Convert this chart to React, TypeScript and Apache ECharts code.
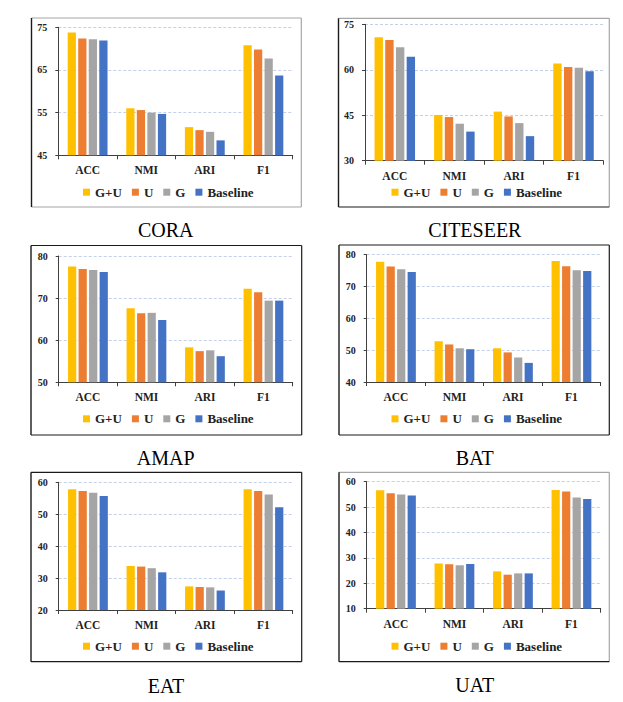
import { useEffect, useRef } from "react";
import * as echarts from "echarts";

const categories = ["ACC", "NMI", "ARI", "F1"];
const seriesNames = ["G+U", "U", "G", "Baseline"];
const seriesColors = ["#FFC000", "#ED7D31", "#A5A5A5", "#4472C4"];

const coraGU = [73.8, 56.0, 51.6, 70.8];
const coraU = [72.4, 55.6, 50.9, 69.8];
const coraG = [72.2, 55.0, 50.5, 67.7];
const coraBase = [71.9, 54.7, 48.5, 63.7];

const citeseerGU = [70.7, 45.1, 46.2, 62.1];
const citeseerU = [69.8, 44.4, 44.6, 60.9];
const citeseerG = [67.4, 42.2, 42.4, 60.7];
const citeseerBase = [64.3, 39.6, 38.1, 59.5];

const amapGU = [77.5, 67.6, 58.3, 72.2];
const amapU = [76.9, 66.4, 57.4, 71.4];
const amapG = [76.7, 66.5, 57.6, 69.4];
const amapBase = [76.2, 64.8, 56.2, 69.4];

const batGU = [77.8, 52.8, 50.6, 78.0];
const batU = [76.3, 51.8, 49.3, 76.4];
const batG = [75.4, 50.6, 47.7, 75.1];
const batBase = [74.6, 50.3, 46.0, 74.9];

const eatGU = [57.8, 33.8, 27.4, 57.8];
const eatU = [57.3, 33.6, 27.2, 57.3];
const eatG = [56.7, 33.1, 27.1, 56.2];
const eatBase = [55.7, 31.8, 26.1, 52.2];

const uatGU = [56.6, 27.8, 24.7, 56.7];
const uatU = [55.5, 27.5, 23.4, 56.1];
const uatG = [55.0, 27.1, 23.9, 53.8];
const uatBase = [54.6, 27.6, 23.9, 53.2];

const datasetNames = ["CORA", "CITESEER", "AMAP", "BAT", "EAT", "UAT"];
const datasetSeries = [
  [coraGU, coraU, coraG, coraBase],
  [citeseerGU, citeseerU, citeseerG, citeseerBase],
  [amapGU, amapU, amapG, amapBase],
  [batGU, batU, batG, batBase],
  [eatGU, eatU, eatG, eatBase],
  [uatGU, uatU, uatG, uatBase],
];
// [min, max, interval]
const axisRanges = [
  [45, 75, 10],
  [30, 75, 15],
  [50, 80, 10],
  [40, 80, 10],
  [20, 60, 10],
  [10, 60, 10],
];

// layout (page px)
const DARK = "#1a1a1a";
const GRAY = "#a6a6a6";
const layout = [
  { gl: 58.3, gr: 292.7, gt: 27.3, gb: 155.3, bl: 31.5, br: 301.3, bt: 18, bb: 207, legL: 83, legY: 192.7, tx: 165.7, ty: 230, sides: [DARK, GRAY, GRAY, GRAY] },
  { gl: 365, gr: 603.3, gt: 24.3, gb: 160.7, bl: 338.5, br: 609.3, bt: 18.3, bb: 207, legL: 391.5, legY: 192.7, tx: 474.8, ty: 230, sides: [DARK, GRAY, GRAY, DARK] },
  { gl: 58.7, gr: 292.7, gt: 256, gb: 382.3, bl: 31, br: 301.7, bt: 245.5, bb: 435, legL: 83, legY: 419.3, tx: 165.7, ty: 458.3, sides: [DARK, DARK, DARK, DARK] },
  { gl: 366.7, gr: 600.7, gt: 254.7, gb: 382, bl: 339, br: 609.3, bt: 245, bb: 435, legL: 391.5, legY: 419.3, tx: 474.7, ty: 458.3, sides: [DARK, DARK, DARK, DARK] },
  { gl: 58.7, gr: 292.7, gt: 482.3, gb: 610, bl: 31, br: 301.7, bt: 472.3, bb: 661.7, legL: 83, legY: 646.7, tx: 166, ty: 685.7, sides: [DARK, DARK, DARK, DARK] },
  { gl: 366.7, gr: 600.7, gt: 481.7, gb: 608.7, bl: 339, br: 609.3, bt: 472.3, bb: 661.7, legL: 391.5, legY: 646.7, tx: 474.7, ty: 685, sides: [DARK, GRAY, GRAY, DARK] },
];

const FONT = '"Liberation Serif", "Times New Roman", serif';
const AXIS_COLOR = "#404040";

export default function App() {
  const ref = useRef<HTMLDivElement>(null);

  useEffect(() => {
    if (!ref.current) return;
    const chart = echarts.init(ref.current, undefined, { renderer: "svg" });

    const grids: any[] = [];
    const xAxes: any[] = [];
    const yAxes: any[] = [];
    const series: any[] = [];
    const legends: any[] = [];
    const graphics: any[] = [];

    layout.forEach((p, i) => {
      grids.push({ left: p.gl, top: p.gt, width: p.gr - p.gl, height: p.gb - p.gt });
      xAxes.push({
        type: "category",
        gridIndex: i,
        data: categories,
        axisLine: { show: true, lineStyle: { color: AXIS_COLOR, width: 1 } },
        axisTick: { show: true, length: 4, lineStyle: { color: AXIS_COLOR } },
        axisLabel: { margin: 9, fontFamily: FONT, fontWeight: "bold", fontSize: 11.5, color: "#222" },
      });
      const [mn, mx, iv] = axisRanges[i];
      yAxes.push({
        type: "value",
        gridIndex: i,
        min: mn,
        max: mx,
        interval: iv,
        axisLine: { show: true, lineStyle: { color: AXIS_COLOR, width: 1 } },
        axisTick: { show: true, length: 3, lineStyle: { color: AXIS_COLOR } },
        splitLine: { show: true, lineStyle: { type: [3, 2], color: "#c3d1ea", width: 1 } },
        axisLabel: { margin: 11, fontFamily: FONT, fontWeight: "bold", fontSize: 10, color: "#222" },
      });
      datasetSeries[i].forEach((vals, s) => {
        series.push({
          type: "bar",
          name: seriesNames[s],
          xAxisIndex: i,
          yAxisIndex: i,
          data: vals,
          barGap: "28%",
          barCategoryGap: "32%",
          itemStyle: { color: seriesColors[s] },
        });
      });
      legends.push({
        left: p.legL,
        top: p.legY - 7,
        padding: 0,
        itemWidth: 7,
        itemHeight: 7,
        itemGap: 10,
        icon: "rect",
        data: seriesNames,
        textStyle: { fontFamily: FONT, fontWeight: "bold", fontSize: 13, color: "#222" },
      });
      const [cl, ct, cr, cb] = p.sides;
      graphics.push(
        { type: "line", shape: { x1: p.bl, y1: p.bt, x2: p.br, y2: p.bt }, style: { stroke: ct, lineWidth: 1.2 } },
        { type: "line", shape: { x1: p.br, y1: p.bt, x2: p.br, y2: p.bb }, style: { stroke: cr, lineWidth: 1.2 } },
        { type: "line", shape: { x1: p.bl, y1: p.bb, x2: p.br, y2: p.bb }, style: { stroke: cb, lineWidth: 1.2 } },
        { type: "line", shape: { x1: p.bl, y1: p.bt, x2: p.bl, y2: p.bb }, style: { stroke: cl, lineWidth: 1.4 } },
        {
          type: "text",
          x: p.tx,
          y: p.ty,
          style: {
            text: datasetNames[i],
            font: `20px ${FONT}`,
            fill: "#000",
            align: "center",
            verticalAlign: "middle",
          },
        }
      );
    });

    chart.setOption({
      animation: false,
      backgroundColor: "#fff",
      grid: grids,
      xAxis: xAxes,
      yAxis: yAxes,
      series,
      legend: legends,
      graphic: graphics,
    });

    return () => chart.dispose();
  }, []);

  return (
    <div
      ref={ref}
      style={{ position: "absolute", left: 0, top: 0, width: 623, height: 702 }}
    />
  );
}
